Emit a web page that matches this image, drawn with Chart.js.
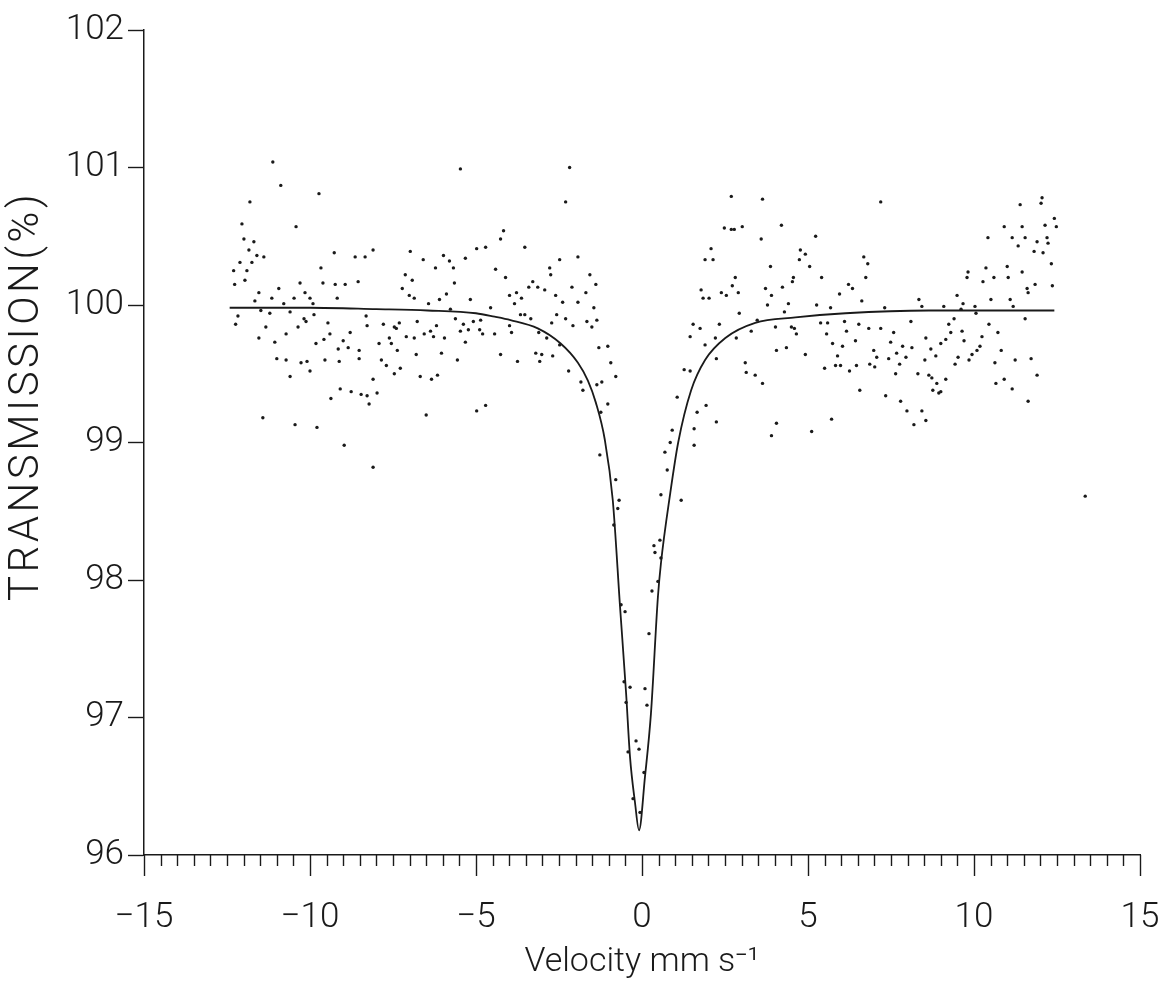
<!DOCTYPE html>
<html>
<head>
<meta charset="utf-8">
<title>Transmission vs velocity</title>
<style>
html, body { margin: 0; padding: 0; background: #fff; }
#wrap { width: 1158px; height: 981px; }
</style>
<script src="https://cdn.jsdelivr.net/npm/chart.js@4.4.1/dist/chart.umd.min.js"></script>
</head>
<body>
<div id="wrap"><canvas id="spectrum" width="1158" height="981"></canvas></div>
<script>
// measured points (velocity in mm/s, transmission in %)
var velocity = [
    -11.12, -10.88, -9.73, -11.81, -10.42, -12.05, -11.99, -11.69, -11.84, -12.11,
    -11.75, -11.60, -11.39, -12.30, -11.90, -11.96, -12.27, -11.54, -11.66, -10.94,
    -11.15, -10.79, -10.48, -10.30, -10.15, -10.00, -9.91, -9.67, -9.61, -9.27,
    -9.24, -8.94, -9.18, -8.64, -8.34, -8.10, -8.55, -6.98, -6.59, -5.98,
    -6.22, -7.13, -6.92, -7.22, -7.01, -6.86, -6.43, -6.10, -5.89, -12.17,
    -12.24, -11.48, -11.21, -11.33, -10.60, -10.36, -10.18, -10.12, -9.88, -9.46,
    -8.31, -8.28, -7.79, -7.46, -7.31, -6.77, -6.19, -11.54, -11.06, -11.00,
    -10.72, -10.72, -10.60, -10.27, -10.09, -10.00, -9.82, -9.58, -9.55, -9.40,
    -9.37, -9.12, -9.15, -9.09, -9.00, -8.85, -8.79, -8.76, -8.52, -8.52,
    -8.46, -8.28, -8.22, -8.10, -7.98, -7.92, -7.85, -7.70, -7.61, -7.55,
    -7.46, -7.40, -7.37, -7.28, -7.10, -6.86, -6.80, -6.68, -6.56, -6.37,
    -6.34, -6.28, -6.16, -6.04, -5.95, -11.42, -10.45, -9.79, -8.97, -8.10,
    -6.50, -5.47, -2.18, -2.30, -4.17, -4.26, -3.53, -4.71, -4.98, -5.32,
    -5.80, -5.68, -4.41, -4.11, -5.65, -2.48, -1.93, -2.78, -2.75, -1.57,
    -3.29, -3.41, -3.14, -2.93, -2.11, -1.39, -3.99, -3.78, -3.63, -5.17,
    -3.84, -2.60, -2.39, -1.93, -1.69, -1.45, -4.56, -5.77, -5.62, -5.38,
    -5.08, -4.86, -5.23, -3.99, -3.66, -3.53, -3.35, -2.57, -2.30, -2.72,
    -2.08, -1.66, -1.36, -1.51, -5.47, -4.89, -4.80, -4.44, -3.93, -5.32,
    -3.11, -2.87, -2.48, -4.26, -3.20, -3.02, -2.69, -3.08, -3.75, -5.56,
    -2.21, -1.84, -1.78, -1.30, -1.03, -0.94, -0.79, -1.21, -1.36, -1.03,
    -1.24, -1.27, -0.79, -4.98, -4.71, 1.06, 0.91, 0.85, 0.69, 0.76,
    0.57, -0.69, 1.18, 0.36, 0.39, 0.54, 0.30, 0.21, 0.09, 0.15,
    -0.18, -0.09, -0.42, 0.06, -0.27, -0.06, -0.36, -0.54, -0.48, -0.73,
    -0.85, -0.63, -0.51, 0.48, 0.57, 2.69, 3.63, 7.19, 2.48, 2.69,
    2.78, 3.02, 4.20, 3.59, 5.23, 2.08, 1.90, 2.14, 4.77, 4.92,
    4.74, 5.05, 3.87, 6.68, 6.80, 6.74, 2.81, 4.56, 4.53, 5.41,
    2.72, 4.23, 6.22, 6.34, 1.78, 2.39, 2.54, 2.90, 1.84, 2.02,
    3.72, 3.90, 5.95, 6.62, 3.78, 4.41, 5.26, 5.68, 2.93, 4.29,
    8.34, 8.43, 3.47, 7.31, 1.54, 1.75, 2.33, 4.02, 4.50, 4.59,
    5.38, 5.59, 6.10, 6.53, 6.83, 7.19, 8.10, 7.58, 8.55, 1.45,
    1.90, 2.21, 2.84, 3.29, 4.65, 5.56, 6.16, 6.43, 7.49, 4.05,
    4.35, 4.92, 5.74, 6.04, 6.98, 7.85, 8.13, 2.24, 3.11, 5.89,
    7.07, 7.43, 7.67, 7.95, 8.52, 1.27, 1.45, 3.14, 3.41, 3.63,
    5.50, 5.83, 5.98, 6.25, 6.46, 6.86, 7.01, 7.64, 7.76, 8.31,
    6.56, 7.34, 7.79, 7.98, 8.43, 8.19, 8.55, 1.93, 1.66, 2.24,
    1.57, 4.05, 5.71, 3.90, 5.11, 1.57, 12.05, 12.02, 11.39, 12.42,
    12.48, 12.14, 10.91, 11.45, 10.42, 11.15, 11.54, 11.90, 12.20, 12.23,
    11.33, 11.81, 12.08, 12.33, 10.36, 11.00, 11.45, 9.82, 9.79, 10.60,
    11.03, 10.27, 11.84, 12.36, 11.60, 11.63, 9.49, 9.09, 9.67, 10.03,
    10.51, 11.09, 11.18, 9.61, 10.06, 9.40, 9.24, 10.45, 11.54, 9.64,
    9.30, 10.72, 9.15, 9.70, 9.00, 10.24, 10.18, 8.70, 10.09, 10.82,
    9.94, 8.85, 9.52, 11.72, 11.24, 9.85, 10.63, 9.43, 8.64, 8.73,
    9.15, 10.91, 10.66, 8.88, 11.90, 8.76, 9.00, 8.94, 11.15, 11.63,
    13.35
];
var transmission = [
    101.04, 100.87, 100.81, 100.75, 100.57, 100.59, 100.48, 100.46, 100.40, 100.31,
    100.31, 100.36, 100.35, 100.25, 100.25, 100.18, 100.15, 100.09, 100.03, 100.12,
    100.05, 100.01, 100.05, 100.16, 100.09, 100.05, 100.01, 100.27, 100.16, 100.38,
    100.15, 100.15, 100.05, 100.35, 100.35, 100.40, 100.17, 100.39, 100.33, 100.36,
    100.27, 100.22, 100.18, 100.12, 100.07, 100.05, 100.01, 100.04, 100.08, 99.92,
    99.86, 99.96, 99.94, 99.84, 99.95, 99.84, 99.90, 99.88, 99.93, 99.87,
    99.92, 99.85, 99.86, 99.84, 99.87, 99.88, 99.85, 99.76, 99.73, 99.61,
    99.60, 99.79, 99.48, 99.58, 99.59, 99.52, 99.72, 99.75, 99.60, 99.79,
    99.32, 99.59, 99.68, 99.39, 99.74, 99.69, 99.80, 99.37, 99.67, 99.61,
    99.35, 99.34, 99.28, 99.46, 99.36, 99.72, 99.60, 99.56, 99.76, 99.72,
    99.50, 99.83, 99.67, 99.54, 99.77, 99.76, 99.64, 99.48, 99.79, 99.81,
    99.46, 99.77, 99.49, 99.65, 99.76, 99.18, 99.13, 99.11, 98.98, 98.82,
    99.20, 100.99, 101.00, 100.75, 100.54, 100.48, 100.42, 100.42, 100.41, 100.34,
    100.32, 100.27, 100.26, 100.20, 100.16, 100.33, 100.35, 100.27, 100.22, 100.22,
    100.17, 100.13, 100.13, 100.11, 100.13, 100.15, 100.07, 100.09, 100.05, 100.04,
    100.01, 100.07, 100.02, 100.02, 100.09, 99.98, 99.98, 99.97, 99.90, 99.86,
    99.88, 99.89, 99.82, 99.85, 99.93, 99.93, 99.90, 99.93, 99.90, 99.87,
    99.85, 99.88, 99.89, 99.84, 99.81, 99.82, 99.79, 99.79, 99.80, 99.73,
    99.80, 99.76, 99.71, 99.64, 99.65, 99.64, 99.63, 99.59, 99.59, 99.60,
    99.52, 99.44, 99.38, 99.69, 99.70, 99.58, 99.48, 99.44, 99.42, 99.28,
    99.22, 98.91, 98.73, 99.23, 99.27, 99.33, 99.09, 99.00, 98.93, 98.80,
    98.62, 98.58, 98.58, 98.25, 98.20, 98.29, 97.92, 97.61, 97.21, 97.09,
    96.83, 96.77, 96.75, 96.60, 96.41, 96.31, 97.22, 97.26, 97.11, 98.52,
    98.40, 97.82, 97.77, 97.99, 98.16, 100.79, 100.77, 100.75, 100.56, 100.55,
    100.55, 100.57, 100.58, 100.48, 100.50, 100.41, 100.33, 100.33, 100.40, 100.37,
    100.33, 100.28, 100.28, 100.35, 100.30, 100.20, 100.20, 100.20, 100.17, 100.20,
    100.14, 100.13, 100.15, 100.12, 100.11, 100.09, 100.07, 100.09, 100.05, 100.05,
    100.12, 100.07, 100.08, 100.03, 100.00, 100.01, 100.00, 99.98, 99.94, 99.95,
    100.04, 99.99, 99.89, 99.98, 99.86, 99.83, 99.86, 99.84, 99.84, 99.83,
    99.87, 99.87, 99.88, 99.86, 99.83, 99.83, 99.88, 99.80, 99.76, 99.77,
    99.71, 99.76, 99.76, 99.81, 99.79, 99.79, 99.81, 99.74, 99.73, 99.67,
    99.69, 99.64, 99.72, 99.70, 99.67, 99.70, 99.69, 99.61, 99.58, 99.63,
    99.62, 99.61, 99.65, 99.62, 99.60, 99.53, 99.52, 99.51, 99.49, 99.43,
    99.54, 99.56, 99.56, 99.52, 99.56, 99.57, 99.55, 99.50, 99.57, 99.50,
    99.38, 99.34, 99.30, 99.23, 99.23, 99.13, 99.16, 99.27, 99.22, 99.15,
    99.10, 99.14, 99.17, 99.05, 99.08, 98.98, 100.78, 100.74, 100.73, 100.63,
    100.57, 100.58, 100.57, 100.57, 100.49, 100.49, 100.49, 100.46, 100.49, 100.45,
    100.43, 100.39, 100.38, 100.30, 100.27, 100.28, 100.24, 100.24, 100.20, 100.20,
    100.20, 100.17, 100.15, 100.14, 100.12, 100.09, 100.07, 99.99, 100.01, 99.99,
    100.04, 100.04, 99.99, 99.97, 99.94, 99.90, 99.86, 99.86, 99.90, 99.81,
    99.80, 99.80, 99.75, 99.74, 99.72, 99.77, 99.70, 99.68, 99.67, 99.67,
    99.64, 99.63, 99.62, 99.61, 99.60, 99.60, 99.58, 99.57, 99.49, 99.47,
    99.46, 99.46, 99.43, 99.43, 99.49, 99.38, 99.37, 99.36, 99.39, 99.30,
    98.61
];

// fitted curve
var fitVelocity = [
    -12.42, -10, -8, -6.46, -5, -4.44, -3.96, -3.14, -2.45, -1.93,
    -1.63, -1.39, -1.12, -0.88, -0.66, -0.48, -0.36, -0.21, -0.09, 0.09,
    0.27, 0.48, 0.57, 0.85, 1.09, 1.48, 1.90, 2.51, 3.41, 4.62,
    6.13, 8.64, 12.42
];
var fitTransmission = [
    99.98, 99.98, 99.97, 99.96, 99.94, 99.915, 99.89, 99.83, 99.72, 99.58,
    99.45, 99.29, 99.02, 98.58, 97.80, 97.18, 96.71, 96.38, 96.18, 96.57,
    97.03, 97.88, 98.12, 98.63, 99.00, 99.38, 99.60, 99.76, 99.87, 99.91,
    99.94, 99.96, 99.96
];

var xMajorTicks = [-15, -10, -5, 0, 5, 10, 15];
var yTicks = [96, 97, 98, 99, 100, 101, 102];
var xTitle = 'Velocity mm s\u207B\u00B9';
var yTitle = 'TRANSMISSION(%)';

var inkColor = '#1a1a1a';
var labelFont = { family: 'Roboto', weight: '300', size: 35 };
var titleFont = { family: 'Roboto', weight: '300', size: 34, lineHeight: 1 };

function toPoints(xs, ys) {
    var pts = [];
    for (var i = 0; i < xs.length; ++i) {
        pts.push({ x: xs[i], y: ys[i] });
    }
    return pts;
}

function formatTick(value) {
    if (value < 0) {
        return '\u2212' + Math.abs(value);
    }
    return '' + value;
}

// x axis ticks: minor every 0.5, long ones at the labelled values
var velocityTicks = {
    id: 'velocityTicks',
    afterDraw: function(chart) {
        var scale = chart.scales.x;
        var ctx = chart.ctx;
        var top = scale.top;
        ctx.save();
        ctx.strokeStyle = inkColor;
        ctx.lineWidth = 1.4;
        for (var v = scale.min; v <= scale.max + 1e-6; v += 0.5) {
            var px = Math.round(scale.getPixelForValue(v)) + 0.5;
            var major = xMajorTicks.indexOf(Math.round(v * 10) / 10) !== -1;
            ctx.beginPath();
            ctx.moveTo(px, top);
            ctx.lineTo(px, top + (major ? 21 : 11));
            ctx.stroke();
        }
        ctx.restore();
    }
};

// rotated y title, sits a bit above the middle of the axis like the original
var transmissionTitle = {
    id: 'transmissionTitle',
    afterDraw: function(chart) {
        var scale = chart.scales.y;
        var ctx = chart.ctx;
        ctx.save();
        ctx.translate(scale.left + 27, chart.chartArea.top + 366);
        ctx.rotate(-Math.PI / 2);
        ctx.fillStyle = inkColor;
        ctx.font = '300 42px Roboto';
        ctx.letterSpacing = '3.5px';
        ctx.textAlign = 'center';
        ctx.textBaseline = 'middle';
        ctx.fillText(yTitle, 0, 0);
        ctx.restore();
    }
};

document.addEventListener('DOMContentLoaded', function() {
    new Chart(document.getElementById('spectrum'), {
        type: 'scatter',
        data: {
            datasets: [{
                data: toPoints(velocity, transmission),
                showLine: false,
                pointRadius: 1.7,
                pointBorderWidth: 0,
                pointBackgroundColor: inkColor
            }, {
                data: toPoints(fitVelocity, fitTransmission),
                showLine: true,
                pointRadius: 0,
                borderColor: inkColor,
                borderWidth: 1.8,
                cubicInterpolationMode: 'monotone'
            }]
        },
        plugins: [velocityTicks, transmissionTitle],
        options: {
            responsive: false,
            animation: false,
            layout: {
                padding: { top: 30, right: 18, bottom: 0, left: 0 }
            },
            plugins: {
                legend: { display: false },
                tooltip: { enabled: false }
            },
            scales: {
                x: {
                    type: 'linear',
                    min: -15,
                    max: 15,
                    afterFit: function(scale) {
                        scale.height = 126;
                        scale.paddingLeft = 0;
                        scale.paddingRight = 0;
                    },
                    afterBuildTicks: function(scale) {
                        scale.ticks = xMajorTicks.map(v => ({ value: v }));
                    },
                    grid: { display: false, drawTicks: false },
                    border: { display: true, color: inkColor, width: 1.5 },
                    ticks: {
                        color: inkColor,
                        font: labelFont,
                        padding: 42,
                        maxRotation: 0,
                        callback: formatTick
                    },
                    title: {
                        display: true,
                        text: xTitle,
                        color: inkColor,
                        font: titleFont,
                        padding: { top: 0, bottom: 2 }
                    }
                },
                y: {
                    type: 'linear',
                    min: 96,
                    max: 102,
                    afterFit: function(scale) {
                        scale.width = 144;
                        scale.paddingTop = 0;
                        scale.paddingBottom = 0;
                    },
                    afterBuildTicks: function(scale) {
                        scale.ticks = yTicks.map(v => ({ value: v }));
                    },
                    grid: {
                        display: true,
                        drawOnChartArea: false,
                        drawTicks: true,
                        tickLength: 16,
                        tickColor: inkColor,
                        tickWidth: 1.4
                    },
                    border: { display: true, color: inkColor, width: 1.5 },
                    ticks: {
                        color: inkColor,
                        font: labelFont,
                        padding: 4
                    },
                    title: { display: false }
                }
            }
        }
    });
});
</script>
</body>
</html>
